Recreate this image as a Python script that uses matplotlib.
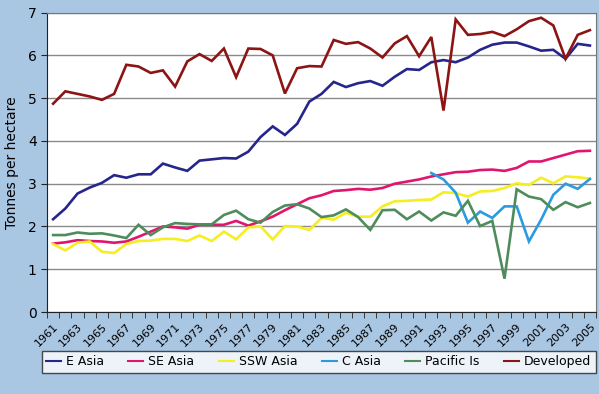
import numpy as np
import matplotlib
matplotlib.use("Agg")
import matplotlib.pyplot as plt

# ------------------------------------------------------------
# Yield data (tonnes per hectare)
# ------------------------------------------------------------
years = list(range(1961, 2006))

e_asia = [2.17, 2.42, 2.77, 2.91, 3.02, 3.20, 3.14, 3.22, 3.22, 3.47,
          3.38, 3.30, 3.54, 3.57, 3.60, 3.59, 3.75, 4.09, 4.34, 4.14,
          4.40, 4.92, 5.10, 5.38, 5.26, 5.35, 5.40, 5.29, 5.50, 5.68,
          5.66, 5.84, 5.89, 5.84, 5.95, 6.13, 6.25, 6.30, 6.30, 6.21,
          6.11, 6.13, 5.92, 6.27, 6.23]

se_asia = [1.60, 1.63, 1.68, 1.66, 1.65, 1.62, 1.65, 1.76, 1.88, 2.00,
           1.98, 1.95, 2.04, 2.04, 2.04, 2.13, 2.02, 2.12, 2.23, 2.38,
           2.52, 2.66, 2.73, 2.83, 2.85, 2.88, 2.86, 2.90, 3.00, 3.05,
           3.10, 3.17, 3.22, 3.27, 3.28, 3.32, 3.33, 3.30, 3.37, 3.52,
           3.52, 3.60, 3.68, 3.76, 3.77]

ssw_asia = [1.59, 1.44, 1.62, 1.65, 1.41, 1.38, 1.59, 1.66, 1.67, 1.71,
            1.71, 1.66, 1.79, 1.66, 1.88, 1.70, 1.98, 2.00, 1.70, 2.01,
            2.00, 1.92, 2.20, 2.16, 2.32, 2.23, 2.23, 2.47, 2.59, 2.60,
            2.62, 2.63, 2.80, 2.78, 2.70, 2.82, 2.83, 2.90, 3.01, 2.97,
            3.14, 3.01, 3.17, 3.15, 3.12]

# C Asia only reported from 1992
c_asia = [None] * 31 + [3.25, 3.10, 2.79, 2.09, 2.35, 2.20, 2.47, 2.47,
                        1.65, 2.16, 2.74, 3.00, 2.88, 3.11]

pacific = [1.80, 1.80, 1.86, 1.83, 1.84, 1.79, 1.73, 2.04, 1.80, 1.98,
           2.08, 2.06, 2.05, 2.05, 2.27, 2.37, 2.17, 2.09, 2.34, 2.49,
           2.52, 2.42, 2.22, 2.26, 2.40, 2.22, 1.92, 2.38, 2.39, 2.17,
           2.35, 2.14, 2.33, 2.25, 2.60, 2.01, 2.13, 0.78, 2.87, 2.70,
           2.64, 2.39, 2.57, 2.45, 2.55]

developed = [4.87, 5.16, 5.10, 5.04, 4.96, 5.10, 5.78, 5.74, 5.59, 5.65,
             5.27, 5.86, 6.03, 5.87, 6.16, 5.49, 6.16, 6.15, 6.00, 5.11,
             5.70, 5.75, 5.74, 6.36, 6.27, 6.31, 6.16, 5.95, 6.28, 6.45,
             5.98, 6.43, 4.71, 6.84, 6.48, 6.50, 6.55, 6.45, 6.61, 6.80,
             6.88, 6.70, 5.92, 6.48, 6.59]

series_names = ["E Asia", "SE Asia", "SSW Asia", "C Asia", "Pacific Is", "Developed"]
series_colors = ["#25258c", "#e2156e", "#f4ee22", "#2b9be0", "#4f8c5c", "#8c1414"]

# ------------------------------------------------------------
# Figure
# ------------------------------------------------------------
bg = "#a9c6e2"
fig = plt.figure(figsize=(5.99, 3.94), dpi=100, facecolor=bg)
ax = fig.add_axes([0.0785, 0.208, 0.9165, 0.76])
ax.set_facecolor("white")

data = [e_asia, se_asia, ssw_asia, c_asia, pacific, developed]
for vals, name, col in zip(data, series_names, series_colors):
    y = np.array([np.nan if v is None else v for v in vals], dtype=float)
    ax.plot(years, y, color=col, lw=1.9, label=name, solid_joinstyle="miter")

ax.set_xlim(1960.5, 2005.5)
ax.set_ylim(0, 7)
ax.set_yticks(range(0, 8))
ax.yaxis.grid(True, color="#8a8a8a", lw=1)
ax.set_axisbelow(True)

# labels every two years, tick marks on category boundaries
ax.set_xticks(years[::2])
ax.set_xticklabels([str(y) for y in years[::2]], rotation=45, ha="right",
                   rotation_mode="anchor", fontsize=8)
ax.set_xticks(np.arange(1960.5, 2006, 1), minor=True)
ax.tick_params(axis="x", which="major", length=0, pad=7)
ax.tick_params(axis="x", which="minor", length=4, direction="out", color="#222222")
ax.tick_params(axis="y", length=4, labelsize=10, color="#222222")

for s in ["left", "bottom"]:
    ax.spines[s].set_color("#222222")
for s in ["top", "right"]:
    ax.spines[s].set_color("#777777")

ax.set_ylabel("Tonnes per hectare", fontsize=10, labelpad=6)

leg = fig.legend(loc="lower center", bbox_to_anchor=(0.532, 0.038), ncol=6,
                 fontsize=9, frameon=True, fancybox=False, handlelength=1.2,
                 handletextpad=0.4, columnspacing=1.95, borderpad=0.35)
leg.get_frame().set_edgecolor("#222222")
leg.get_frame().set_linewidth(1)
for line in leg.get_lines():
    line.set_linewidth(1.5)

fig.savefig("out.png", dpi=100, facecolor=bg)
